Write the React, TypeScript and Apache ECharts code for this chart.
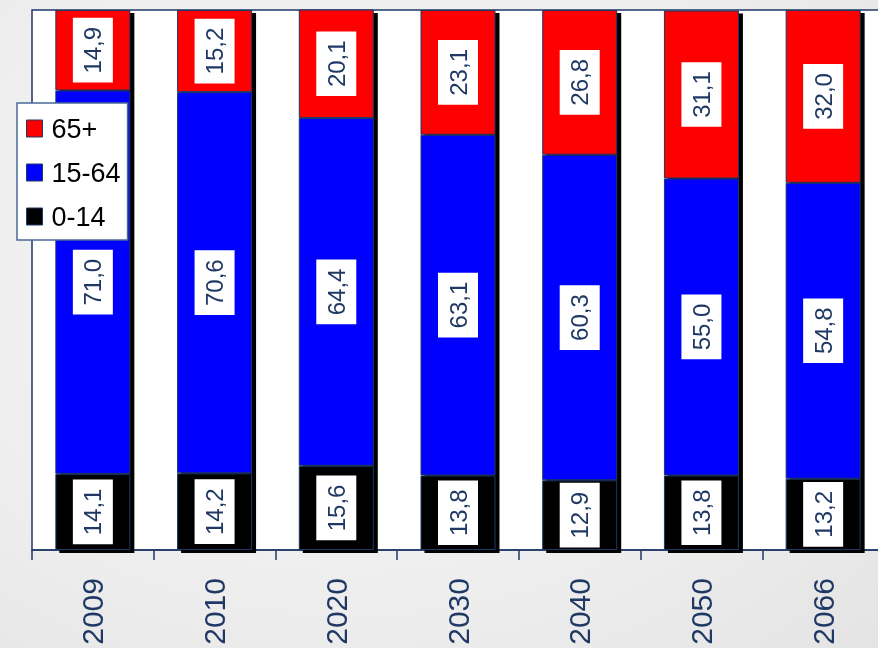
import React, { useEffect, useRef } from "react";
import * as echarts from "echarts";

const years = ["2009", "2010", "2020", "2030", "2040", "2050", "2066"];
const age0to14 = [14.1, 14.2, 15.6, 13.8, 12.9, 13.8, 13.2];
const age15to64 = [71.0, 70.6, 64.4, 63.1, 60.3, 55.0, 54.8];
const age65plus = [14.9, 15.2, 20.1, 23.1, 26.8, 31.1, 32.0];

const NAVY = "#1F3864";
const FONT = "Liberation Sans, Arial, sans-serif";
const BAR_W = 75;

export default function App() {
  const ref = useRef<HTMLDivElement>(null);
  useEffect(() => {
    if (!ref.current) return;
    const chart = echarts.init(ref.current, null, { renderer: "svg" });
    const label = {
      show: true,
      position: "inside",
      rotate: 90,
      backgroundColor: "#ffffff",
      padding: [8, 9],
      color: NAVY,
      fontSize: 24,
      fontFamily: FONT,
      formatter: (p: any) => Number(p.value).toFixed(1).replace(".", ","),
    };
    const mk = (name: string, data: number[], color: string, z: number) => ({
      name,
      type: "bar",
      stack: "total",
      data,
      barWidth: BAR_W,
      z,
      itemStyle: {
        color,
        borderColor: NAVY,
        borderWidth: 1,
      },
      label,
    });
    const totals = years.map((_, i) => [i, Math.min(100, age0to14[i] + age15to64[i] + age65plus[i])]);
    chart.setOption({
      animation: false,
      grid: {
        left: 32,
        top: 10,
        right: -6,
        bottom: 98,
        show: true,
        backgroundColor: "#ffffff",
        borderColor: NAVY,
        borderWidth: 1.5,
        outerBoundsMode: "none",
      },
      legend: {
        orient: "vertical",
        left: 17,
        top: 103,
        data: ["65+", "15-64", "0-14"],
        icon: "rect",
        backgroundColor: "#ffffff",
        borderColor: "#4A6A96",
        borderWidth: 1.5,
        padding: [12, 7, 10, 9],
        itemWidth: 16,
        itemHeight: 17,
        itemGap: 17,
        itemStyle: { borderColor: NAVY, borderWidth: 1 },
        textStyle: { fontSize: 27, color: "#000000", fontFamily: FONT, padding: [0, 0, 0, 4] },
        z: 20,
      },
      xAxis: {
        type: "category",
        data: years,
        axisLine: { lineStyle: { color: NAVY, width: 1.5 } },
        axisTick: { show: true, length: 10, lineStyle: { color: NAVY, width: 1.5 } },
        axisLabel: { rotate: 90, fontSize: 30, color: NAVY, fontFamily: FONT, margin: 28 },
      },
      yAxis: {
        type: "value",
        min: 0,
        max: 100,
        show: false,
        splitLine: { show: false },
      },
      series: [
        {
          name: "shadow",
          type: "custom",
          z: 1,
          clip: false,
          data: totals,
          renderItem: (params: any, api: any) => {
            const top = api.coord([api.value(0), api.value(1)]);
            const base = api.coord([api.value(0), 0]);
            return {
              type: "rect",
              shape: {
                x: top[0] - BAR_W / 2 + 4,
                y: top[1] + 3,
                width: BAR_W,
                height: base[1] - top[1],
              },
              style: { fill: "#000000" },
            };
          },
        },
        mk("0-14", age0to14, "#000000", 5),
        mk("15-64", age15to64, "#0000FF", 4),
        mk("65+", age65plus, "#FF0000", 3),
      ],
    });
    return () => chart.dispose();
  }, []);
  return (
    <div
      style={{
        position: "fixed",
        left: 0,
        top: 0,
        width: 878,
        height: 648,
        background: "radial-gradient(ellipse at 40% 40%, #f5f5f5 0%, #eeeeee 60%, #e4e4e4 100%)",
      }}
    >
      <div ref={ref} style={{ width: 878, height: 648 }} />
    </div>
  );
}
